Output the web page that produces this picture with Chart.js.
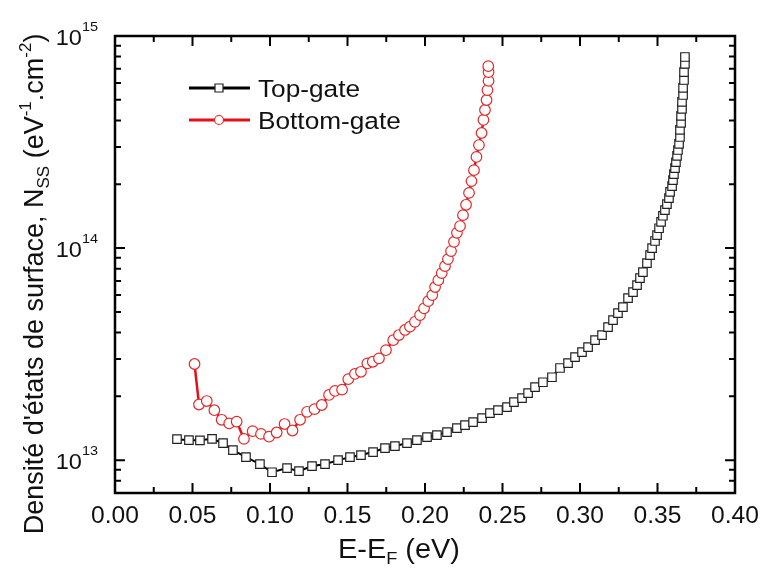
<!DOCTYPE html>
<html>
<head>
<meta charset="utf-8">
<script src="https://cdn.jsdelivr.net/npm/chart.js@4.4.0/dist/chart.umd.min.js"></script>
<style>
  html, body { margin: 0; padding: 0; background: #fff; }
  #wrap { width: 761px; height: 570px; }
</style>
</head>
<body>
<div id="wrap"><canvas id="c" width="761" height="570"></canvas></div>
<script>
// Top-gate (black squares)
const topX = [0.0400, 0.0477, 0.0548, 0.0626, 0.0697, 0.0761, 0.0845, 0.0935, 0.1013, 0.1110,
  0.1187, 0.1271, 0.1355, 0.1439, 0.1516, 0.1587, 0.1665, 0.1742, 0.1806, 0.1884,
  0.1948, 0.2013, 0.2077, 0.2142, 0.2206, 0.2258, 0.2310, 0.2368, 0.2419, 0.2471,
  0.2529, 0.2574, 0.2626, 0.2665, 0.2710, 0.2761, 0.2819, 0.2871, 0.2923, 0.2968,
  0.3013, 0.3052, 0.3097, 0.3142, 0.3181, 0.3213, 0.3245, 0.3277, 0.3310, 0.3342,
  0.3368, 0.3387, 0.3406, 0.3432, 0.3452, 0.3465, 0.3484, 0.3497, 0.3510, 0.3523,
  0.3535, 0.3548, 0.3561, 0.3574, 0.3581, 0.3594, 0.3600, 0.3606, 0.3613, 0.3619,
  0.3626, 0.3632, 0.3639, 0.3645, 0.3645, 0.3652, 0.3652, 0.3658, 0.3658, 0.3665,
  0.3665, 0.3671, 0.3671, 0.3677, 0.3677];
const topY = [1.256e13, 1.242e13, 1.24e13, 1.26e13, 1.202e13, 1.114e13, 1.033e13, 0.957e13, 0.877e13, 0.917e13,
  0.887e13, 0.938e13, 0.957e13, 1.0e13, 1.033e13, 1.057e13, 1.092e13, 1.14e13, 1.165e13, 1.202e13,
  1.242e13, 1.283e13, 1.312e13, 1.356e13, 1.416e13, 1.463e13, 1.511e13, 1.578e13, 1.667e13, 1.722e13,
  1.778e13, 1.878e13, 1.961e13, 2.07e13, 2.21e13, 2.33e13, 2.46e13, 2.72e13, 2.87e13, 3.06e13,
  3.23e13, 3.41e13, 3.68e13, 3.89e13, 4.24e13, 4.57e13, 4.93e13, 5.27e13, 5.81e13, 6.20e13,
  6.69e13, 7.21e13, 7.70e13, 8.49e13, 9.26e13, 1.0e14, 1.08e14, 1.15e14, 1.24e14, 1.33e14,
  1.42e14, 1.51e14, 1.61e14, 1.72e14, 1.84e14, 1.96e14, 2.09e14, 2.23e14, 2.38e14, 2.54e14,
  2.72e14, 2.90e14, 3.10e14, 3.34e14, 3.61e14, 3.89e14, 4.20e14, 4.53e14, 4.89e14, 5.27e14,
  5.69e14, 6.20e14, 6.76e14, 7.38e14, 7.96e14];

// Bottom-gate (red circles)
const botX = [0.0513, 0.0542, 0.0592, 0.0641, 0.0688, 0.0737, 0.0785, 0.0832, 0.0888, 0.0942,
  0.0994, 0.1043, 0.1094, 0.1145, 0.1194, 0.1239, 0.1287, 0.1334, 0.1381, 0.1419,
  0.1465, 0.1505, 0.1548, 0.1587, 0.1628, 0.1663, 0.1703, 0.1748, 0.1795, 0.1832,
  0.1871, 0.1903, 0.1935, 0.1968, 0.1994, 0.2021, 0.2047, 0.2065, 0.2086, 0.2108,
  0.2129, 0.2148, 0.2168, 0.2187, 0.2206, 0.2226, 0.2245, 0.2265, 0.2284, 0.2300,
  0.2316, 0.2332, 0.2348, 0.2365, 0.2377, 0.2387, 0.2397, 0.2403, 0.2410, 0.2410, 0.2408];
const botY = [2.84e13, 1.83e13, 1.90e13, 1.72e13, 1.55e13, 1.49e13, 1.52e13, 1.26e13, 1.37e13, 1.33e13,
  1.29e13, 1.35e13, 1.48e13, 1.38e13, 1.55e13, 1.69e13, 1.74e13, 1.82e13, 2.03e13, 2.12e13,
  2.15e13, 2.41e13, 2.55e13, 2.61e13, 2.86e13, 2.91e13, 3.02e13, 3.30e13, 3.68e13, 3.89e13,
  4.11e13, 4.26e13, 4.49e13, 4.83e13, 5.20e13, 5.62e13, 6.00e13, 6.55e13, 7.06e13, 7.62e13,
  8.22e13, 8.87e13, 9.68e13, 1.07e14, 1.18e14, 1.27e14, 1.43e14, 1.60e14, 1.82e14, 2.07e14,
  2.33e14, 2.69e14, 3.06e14, 3.49e14, 4.02e14, 4.48e14, 4.99e14, 5.56e14, 6.14e14, 6.76e14, 7.21e14];

// Axes
const xMajorTicks = [0, 0.05, 0.10, 0.15, 0.20, 0.25, 0.30, 0.35, 0.40];
const xTickLabels = ['0.00', '0.05', '0.10', '0.15', '0.20', '0.25', '0.30', '0.35', '0.40'];
const xMinorTicks = [0.025, 0.075, 0.125, 0.175, 0.225, 0.275, 0.325, 0.375];
const yMajorTicks = [1e13, 1e14, 1e15];
const yTickExp = ['13', '14', '15'];
const yMinorTicks = [8e12, 9e12, 2e13, 3e13, 4e13, 5e13, 6e13, 7e13, 8e13, 9e13,
  2e14, 3e14, 4e14, 5e14, 6e14, 7e14, 8e14, 9e14];

const FONT = '"Liberation Sans", Arial, sans-serif';
const STRETCH = 1.07; // the source picture is a little wider than tall

// text made of runs (subscripts / superscripts), x-stretched by sx
function drawRich(ctx, parts, x, y, align, sx) {
  sx = sx || 1;
  let total = 0;
  parts.forEach(p => { ctx.font = p.size + 'px ' + FONT; total += ctx.measureText(p.t).width; });
  let cx = 0;
  if (align === 'center') cx = -total / 2;
  if (align === 'right') cx = -total;
  ctx.save();
  ctx.translate(x, y);
  ctx.scale(sx, 1);
  ctx.textAlign = 'left';
  ctx.textBaseline = 'alphabetic';
  parts.forEach(p => {
    ctx.font = p.size + 'px ' + FONT;
    ctx.fillText(p.t, cx, p.dy || 0);
    cx += ctx.measureText(p.t).width;
  });
  ctx.restore();
}

const frame = {
  id: 'frame',
  afterDraw(chart) {
    const ctx = chart.ctx;
    const a = chart.chartArea;
    const xs = chart.scales.x, ys = chart.scales.y;
    ctx.save();
    ctx.strokeStyle = '#000';
    ctx.fillStyle = '#111';

    // ticks, inward on all four sides
    ctx.lineWidth = 2;
    ctx.beginPath();
    xMajorTicks.forEach(v => {
      const px = xs.getPixelForValue(v);
      ctx.moveTo(px, a.bottom); ctx.lineTo(px, a.bottom - 10);
      ctx.moveTo(px, a.top); ctx.lineTo(px, a.top + 10);
    });
    xMinorTicks.forEach(v => {
      const px = xs.getPixelForValue(v);
      ctx.moveTo(px, a.bottom); ctx.lineTo(px, a.bottom - 6);
      ctx.moveTo(px, a.top); ctx.lineTo(px, a.top + 6);
    });
    yMajorTicks.forEach(v => {
      const py = ys.getPixelForValue(v);
      ctx.moveTo(a.left, py); ctx.lineTo(a.left + 10, py);
      ctx.moveTo(a.right, py); ctx.lineTo(a.right - 10, py);
    });
    yMinorTicks.forEach(v => {
      const py = ys.getPixelForValue(v);
      ctx.moveTo(a.left, py); ctx.lineTo(a.left + 6, py);
      ctx.moveTo(a.right, py); ctx.lineTo(a.right - 6, py);
    });
    ctx.stroke();

    ctx.lineWidth = 2.5;
    ctx.strokeRect(a.left, a.top, a.right - a.left, a.bottom - a.top);

    // x tick labels
    xMajorTicks.forEach((v, i) => {
      drawRich(ctx, [{ t: xTickLabels[i], size: 23 }], xs.getPixelForValue(v), a.bottom + 30, 'center', STRETCH);
    });

    // y tick labels 10^n
    yMajorTicks.forEach((v, i) => {
      const py = ys.getPixelForValue(v);
      drawRich(ctx, [{ t: '10', size: 22 }, { t: yTickExp[i], size: 13.5, dy: -14 }], a.left - 17, py + 9, 'right', STRETCH);
    });

    // x title
    drawRich(ctx, [{ t: 'E-E', size: 27 }, { t: 'F', size: 17, dy: 6 }, { t: ' (eV)', size: 27 }], 399, 558, 'center', STRETCH);

    // y title
    ctx.save();
    ctx.translate(43, 284);
    ctx.rotate(-Math.PI / 2);
    drawRich(ctx, [
      { t: "Densit\u00e9 d'\u00e9tats de surface, N", size: 27 },
      { t: 'SS', size: 17, dy: 6 },
      { t: ' (eV', size: 27 },
      { t: '-1', size: 17, dy: -12 },
      { t: '.cm', size: 27 },
      { t: '-2', size: 17, dy: -12 },
      { t: ')', size: 27 }
    ], 0, 0, 'center', 1);
    ctx.restore();

    // legend
    const rows = [88, 120];
    chart.data.datasets.forEach((ds, i) => {
      const y = rows[i];
      ctx.strokeStyle = ds.borderColor;
      ctx.lineWidth = 3;
      ctx.beginPath();
      ctx.moveTo(189, y); ctx.lineTo(250, y);
      ctx.stroke();
      ctx.fillStyle = '#fff';
      ctx.strokeStyle = ds.pointBorderColor;
      ctx.lineWidth = 1.2;
      ctx.beginPath();
      if (ds.pointStyle === 'rect') {
        ctx.rect(215, y - 4, 8, 8);
      } else {
        ctx.arc(219, y, 4.5, 0, Math.PI * 2);
      }
      ctx.fill();
      ctx.stroke();
      ctx.fillStyle = '#111';
      drawRich(ctx, [{ t: ds.label, size: 24.5 }], 258, y + 9, 'left', STRETCH);
    });
    ctx.restore();
  }
};

const whiteBg = {
  id: 'whiteBg',
  beforeDraw(chart) {
    const ctx = chart.ctx;
    ctx.save();
    ctx.fillStyle = '#fff';
    ctx.fillRect(0, 0, chart.width, chart.height);
    ctx.restore();
  }
};

new Chart(document.getElementById('c').getContext('2d'), {
  type: 'line',
  data: {
    datasets: [
      {
        label: 'Top-gate',
        data: topX.map((x, i) => ({ x, y: topY[i] })),
        borderColor: '#000',
        borderWidth: 2,
        pointStyle: 'rect',
        pointRadius: 6,
        pointBackgroundColor: '#fff',
        pointBorderColor: '#222',
        pointBorderWidth: 1.2,
        tension: 0,
        fill: false
      },
      {
        label: 'Bottom-gate',
        data: botX.map((x, i) => ({ x, y: botY[i] })),
        borderColor: '#e3101a',
        borderWidth: 2.5,
        pointStyle: 'circle',
        pointRadius: 5.3,
        pointBackgroundColor: '#fff',
        pointBorderColor: '#e02a2a',
        pointBorderWidth: 1.2,
        tension: 0,
        fill: false
      }
    ]
  },
  options: {
    responsive: false,
    animation: false,
    devicePixelRatio: 1,
    layout: { padding: { left: 115, top: 36, right: 26, bottom: 77 } },
    plugins: { legend: { display: false }, tooltip: { enabled: false } },
    scales: {
      x: { type: 'linear', min: 0, max: 0.4, display: false },
      y: { type: 'logarithmic', min: 7e12, max: 1e15, display: false }
    }
  },
  plugins: [whiteBg, frame]
});
</script>
</body>
</html>
